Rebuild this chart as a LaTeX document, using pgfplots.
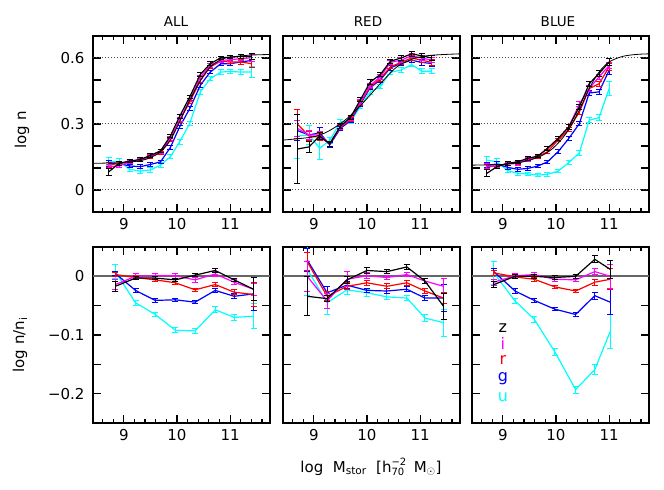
\documentclass[border=0pt]{standalone}
\usepackage{fontspec}
\setmainfont{DejaVu Sans}
\usepackage{pgfplots}
\pgfplotsset{compat=1.18}
\definecolor{mag}{rgb}{1,0,1}
\definecolor{cy}{rgb}{0,1,1}
\definecolor{bl}{rgb}{0,0,1}
\definecolor{rd}{rgb}{1,0,0}
\definecolor{zl}{rgb}{0.4,0.4,0.4}
\pgfplotsset{
 panel/.style={width=177bp,height=176bp,scale only axis,anchor=north west,
  xmin=8.42,xmax=11.75, xtick={9,10,11}, xticklabels={9,10,11},
  minor xtick={8.6,8.8,9.2,9.4,9.6,9.8,10.2,10.4,10.6,10.8,11.2,11.4,11.6},
  tick align=inside, major tick length=8bp, minor tick length=4bp,
  scaled ticks=false,
  axis line style={line width=1.3bp},
  every tick/.append style={line width=1.2bp, black},
  tick label style={font=\fontsize{15bp}{17bp}\selectfont},
  xticklabel style={yshift=-3bp}, yticklabel style={xshift=-5bp}},
 top/.style={ymin=-0.1,ymax=0.7, ytick={0,0.1,0.2,0.3,0.4,0.5,0.6}},
 bot/.style={ymin=-0.25,ymax=0.05, ytick={-0.2,-0.15,-0.1,-0.05,0}},
 ser/.style={line width=1.2bp, mark=none,
  error bars/.cd, y dir=both, y explicit, error mark=-,
  error bar style={line width=1bp}, error mark options={rotate=90, line width=1bp, mark size=3bp}},
 fit/.style={black, line width=0.8bp, smooth, mark=none},
 dotl/.style={black!70, dotted, line width=1bp, mark=none},
 zerol/.style={zl, line width=1.8bp, mark=none},
 noyl/.style={yticklabels={,,,,,,,}},
}
\begin{document}
\begin{tikzpicture}
\useasboundingbox (0,0) rectangle (664bp,-490bp);
\node[anchor=base,font=\fontsize{13.5bp}{15bp}\selectfont] at (176bp,-26.7bp) {ALL};
\node[anchor=base,font=\fontsize{13.5bp}{15bp}\selectfont] at (368bp,-26.7bp) {RED};
\node[anchor=base,font=\fontsize{13.5bp}{15bp}\selectfont] at (558bp,-26.7bp) {BLUE};
\node[rotate=90,font=\fontsize{15bp}{17bp}\selectfont] at (22bp,-130bp) {log n};
\node[rotate=90,font=\fontsize{15bp}{17bp}\selectfont] at (20bp,-345bp) {log n/n\textsubscript{i}};
\node[font=\fontsize{15bp}{17bp}\selectfont] at (371bp,-467bp) {log\ \ M\textsubscript{stor}\ \ [h\rlap{\raisebox{6.5bp}{\fontsize{10bp}{10bp}\selectfont −2}}\raisebox{-3.5bp}{\fontsize{10bp}{10bp}\selectfont 70}\ \ M\textsubscript{$\odot$}]};

% ---------------- ALL top
\begin{axis}[panel, top, at={(93bp,-36bp)}, yticklabels={0,{},{},0.3,{},{},0.6}]
\addplot[dotl] coordinates {(8.42,0) (11.75,0)};
\addplot[dotl] coordinates {(8.42,0.3) (11.75,0.3)};
\addplot[dotl] coordinates {(8.42,0.6) (11.75,0.6)};
\addplot[cy, ser] table[y error index=2] {
8.72 0.130 0.018
8.91 0.130 0.015
9.11 0.094 0.01
9.31 0.086 0.01
9.50 0.091 0.01
9.69 0.113 0.01
9.875 0.151 0.01
10.05 0.219 0.01
10.24 0.302 0.01
10.44 0.446 0.01
10.625 0.506 0.01
10.825 0.536 0.01
11.0 0.539 0.01
11.2 0.536 0.012
11.41 0.536 0.025
};
\addplot[bl, ser] table[y error index=2] {
8.72 0.121 0.012
8.91 0.121 0.01
9.11 0.109 0.008
9.31 0.106 0.008
9.50 0.116 0.008
9.69 0.128 0.008
9.875 0.193 0.008
10.05 0.287 0.008
10.24 0.370 0.008
10.44 0.476 0.008
10.625 0.536 0.008
10.825 0.574 0.008
11.0 0.574 0.008
11.2 0.582 0.01
11.41 0.589 0.03
};
\addplot[rd, ser] table[y error index=2] {
8.72 0.113 0.01
8.91 0.121 0.008
9.11 0.131 0.008
9.31 0.136 0.008
9.50 0.151 0.008
9.69 0.169 0.008
9.875 0.227 0.008
10.05 0.317 0.008
10.24 0.400 0.008
10.44 0.498 0.008
10.625 0.559 0.008
10.825 0.586 0.008
11.0 0.582 0.008
11.2 0.582 0.01
11.41 0.574 0.018
};
\addplot[mag, ser] table[y error index=2] {
8.72 0.106 0.01
8.91 0.109 0.008
9.11 0.128 0.008
9.31 0.136 0.008
9.50 0.154 0.008
9.69 0.174 0.008
9.875 0.234 0.008
10.05 0.320 0.008
10.24 0.408 0.008
10.44 0.514 0.008
10.625 0.566 0.008
10.825 0.589 0.008
11.0 0.592 0.008
11.2 0.597 0.01
11.41 0.601 0.015
};
\addplot[black, ser] table[y error index=2] {
8.72 0.083 0.015
8.91 0.121 0.008
9.11 0.131 0.008
9.31 0.139 0.008
9.50 0.157 0.008
9.69 0.178 0.008
9.875 0.245 0.008
10.05 0.335 0.008
10.24 0.423 0.008
10.44 0.526 0.008
10.625 0.574 0.008
10.825 0.601 0.008
11.0 0.604 0.008
11.2 0.607 0.01
11.41 0.607 0.015
};
\addplot[fit] coordinates {(8.42,0.121) (9.0,0.125) (9.31,0.133) (9.5,0.147) (9.69,0.174) (9.875,0.227) (10.05,0.31) (10.24,0.408) (10.44,0.498) (10.625,0.559) (10.825,0.592) (11.0,0.604) (11.375,0.613) (11.75,0.616)};
\end{axis}

% ---------------- RED top
\begin{axis}[panel, top, at={(283bp,-36bp)}, noyl]
\addplot[dotl] coordinates {(8.42,0) (11.75,0)};
\addplot[dotl] coordinates {(8.42,0.3) (11.75,0.3)};
\addplot[dotl] coordinates {(8.42,0.6) (11.75,0.6)};
\addplot[cy, ser] table[y error index=2] {
8.69 0.245 0.10
8.91 0.250 0.045
9.11 0.190 0.05
9.30 0.225 0.015
9.50 0.310 0.012
9.69 0.310 0.01
9.875 0.380 0.01
10.06 0.445 0.01
10.25 0.470 0.01
10.44 0.535 0.01
10.64 0.545 0.01
10.84 0.570 0.01
11.03 0.540 0.012
11.22 0.540 0.012
};
\addplot[bl, ser] table[y error index=2] {
8.69 0.270 0.045
8.91 0.250 0.02
9.11 0.260 0.025
9.30 0.205 0.012
9.50 0.280 0.01
9.69 0.315 0.01
9.875 0.390 0.01
10.06 0.465 0.01
10.25 0.500 0.01
10.44 0.555 0.01
10.64 0.575 0.01
10.84 0.590 0.01
11.03 0.580 0.012
11.22 0.575 0.012
};
\addplot[rd, ser] table[y error index=2] {
8.69 0.300 0.065
8.91 0.245 0.02
9.11 0.240 0.015
9.30 0.210 0.012
9.50 0.285 0.01
9.69 0.320 0.01
9.875 0.395 0.01
10.06 0.470 0.01
10.25 0.505 0.01
10.44 0.560 0.01
10.64 0.580 0.01
10.84 0.600 0.01
11.03 0.590 0.012
11.22 0.580 0.012
};
\addplot[mag, ser] table[y error index=2] {
8.69 0.280 0.035
8.91 0.250 0.02
9.11 0.250 0.015
9.30 0.210 0.012
9.50 0.287 0.01
9.69 0.325 0.01
9.875 0.400 0.01
10.06 0.476 0.01
10.25 0.514 0.01
10.44 0.580 0.01
10.64 0.590 0.01
10.84 0.610 0.01
11.03 0.600 0.012
11.22 0.590 0.012
};
\addplot[black, ser] table[y error index=2] {
8.69 0.186 0.155
8.91 0.196 0.025
9.11 0.245 0.015
9.30 0.210 0.012
9.50 0.290 0.01
9.69 0.330 0.01
9.875 0.410 0.01
10.06 0.490 0.01
10.25 0.525 0.01
10.44 0.585 0.01
10.64 0.600 0.01
10.84 0.619 0.01
11.03 0.610 0.01
11.22 0.600 0.012
};
\addplot[fit] coordinates {(8.42,0.227) (9.0,0.242) (9.31,0.272) (9.625,0.325) (9.94,0.40) (10.25,0.483) (10.56,0.559) (10.875,0.597) (11.19,0.612) (11.75,0.619)};
\end{axis}

% ---------------- BLUE top
\begin{axis}[panel, top, at={(472bp,-36bp)}, noyl]
\addplot[dotl] coordinates {(8.42,0) (11.75,0)};
\addplot[dotl] coordinates {(8.42,0.3) (11.75,0.3)};
\addplot[dotl] coordinates {(8.42,0.6) (11.75,0.6)};
\addplot[cy, ser] table[y error index=2] {
8.70 0.136 0.018
8.89 0.128 0.015
9.09 0.088 0.01
9.28 0.076 0.008
9.47 0.073 0.008
9.66 0.068 0.008
9.84 0.071 0.008
10.04 0.086 0.008
10.24 0.124 0.01
10.44 0.169 0.012
10.625 0.317 0.012
10.81 0.329 0.015
11.0 0.461 0.03
};
\addplot[bl, ser] table[y error index=2] {
8.70 0.113 0.012
8.89 0.118 0.01
9.09 0.103 0.008
9.28 0.094 0.008
9.47 0.098 0.008
9.66 0.109 0.008
9.84 0.128 0.008
10.04 0.174 0.008
10.24 0.234 0.01
10.44 0.302 0.01
10.625 0.441 0.012
10.81 0.446 0.012
11.0 0.544 0.02
};
\addplot[rd, ser] table[y error index=2] {
8.70 0.106 0.01
8.89 0.109 0.008
9.09 0.121 0.008
9.28 0.124 0.008
9.47 0.136 0.008
9.66 0.151 0.008
9.84 0.174 0.008
10.04 0.227 0.008
10.24 0.275 0.01
10.44 0.355 0.01
10.625 0.461 0.012
10.81 0.483 0.012
11.0 0.559 0.015
};
\addplot[mag, ser] table[y error index=2] {
8.70 0.109 0.01
8.89 0.109 0.008
9.09 0.118 0.008
9.28 0.121 0.008
9.47 0.139 0.008
9.66 0.154 0.008
9.84 0.189 0.008
10.04 0.234 0.008
10.24 0.287 0.01
10.44 0.390 0.01
10.625 0.461 0.012
10.81 0.514 0.012
11.0 0.566 0.015
};
\addplot[black, ser] table[y error index=2] {
8.70 0.076 0.015
8.89 0.106 0.008
9.09 0.121 0.008
9.28 0.128 0.008
9.47 0.144 0.008
9.66 0.154 0.008
9.84 0.189 0.008
10.04 0.234 0.008
10.24 0.287 0.01
10.44 0.378 0.01
10.625 0.483 0.012
10.81 0.529 0.012
11.0 0.582 0.015
};
\addplot[fit] coordinates {(8.42,0.113) (9.0,0.116) (9.375,0.128) (9.69,0.151) (9.94,0.189) (10.19,0.257) (10.44,0.363) (10.625,0.461) (10.81,0.536) (11.0,0.582) (11.25,0.607) (11.5,0.616) (11.75,0.619)};
\end{axis}

% ---------------- ALL bottom
\begin{axis}[panel, bot, at={(93bp,-247bp)}, yticklabels={−0.2,{},−0.1,{},0}]
\addplot[zerol] coordinates {(8.42,0) (11.75,0)};
\addplot[cy, ser] table[y error index=2] {
8.84 0.008 0.012
9.22 -0.045 0.004
9.59 -0.065 0.004
9.97 -0.092 0.004
10.34 -0.093 0.004
10.72 -0.057 0.005
11.075 -0.070 0.005
11.44 -0.068 0.021
};
\addplot[bl, ser] table[y error index=2] {
8.84 0.005 0.004
9.22 -0.024 0.004
9.59 -0.041 0.003
9.97 -0.040 0.003
10.34 -0.044 0.003
10.72 -0.024 0.004
11.075 -0.034 0.004
11.44 -0.030 0.028
};
\addplot[rd, ser] table[y error index=2] {
8.84 0.003 0.004
9.22 -0.002 0.003
9.59 -0.006 0.003
9.97 -0.011 0.003
10.34 -0.023 0.003
10.72 -0.014 0.003
11.075 -0.027 0.004
11.44 -0.031 0.02
};
\addplot[mag, ser] table[y error index=2] {
8.84 -0.014 0.008
9.22 0.000 0.004
9.59 0.001 0.004
9.97 0.001 0.004
10.34 -0.006 0.004
10.72 0.004 0.004
11.075 -0.010 0.004
11.44 -0.022 0.01
};
\addplot[black, ser] table[y error index=2] {
8.84 -0.017 0.008
9.22 -0.003 0.003
9.59 -0.003 0.003
9.97 -0.006 0.003
10.34 0.002 0.003
10.72 0.010 0.003
11.075 -0.006 0.003
11.44 -0.022 0.02
};
\end{axis}

% ---------------- RED bottom
\begin{axis}[panel, bot, at={(283bp,-247bp)}, noyl]
\addplot[zerol] coordinates {(8.42,0) (11.75,0)};
\addplot[cy, ser] table[y error index=2] {
8.875 0.012 0.045
9.25 -0.045 0.02
9.625 -0.023 0.008
10.0 -0.028 0.006
10.375 -0.035 0.005
10.75 -0.037 0.005
11.09 -0.071 0.006
11.44 -0.079 0.023
};
\addplot[bl, ser] table[y error index=2] {
8.875 0.028 0.02
9.25 -0.028 0.01
9.625 -0.015 0.006
10.0 -0.024 0.004
10.375 -0.025 0.004
10.75 -0.022 0.004
11.09 -0.037 0.005
11.44 -0.037 0.023
};
\addplot[rd, ser] table[y error index=2] {
8.875 0.025 0.015
9.25 -0.034 0.008
9.625 -0.017 0.006
10.0 -0.011 0.004
10.375 -0.017 0.004
10.75 -0.011 0.004
11.09 -0.025 0.005
11.44 -0.037 0.01
};
\addplot[mag, ser] table[y error index=2] {
8.875 0.000 0.025
9.25 -0.042 0.012
9.625 -0.005 0.013
10.0 0.001 0.005
10.375 -0.002 0.004
10.75 0.003 0.004
11.09 -0.008 0.005
11.44 -0.017 0.013
};
\addplot[black, ser] table[y error index=2] {
8.875 -0.034 0.033
9.25 -0.038 0.005
9.625 -0.006 0.006
10.0 0.010 0.005
10.375 0.008 0.004
10.75 0.016 0.004
11.09 -0.008 0.005
11.44 -0.051 0.022
};
\end{axis}

% ---------------- BLUE bottom
\begin{axis}[panel, bot, at={(472bp,-247bp)}, noyl]
\addplot[zerol] coordinates {(8.42,0) (11.75,0)};
\addplot[cy, ser] table[y error index=2] {
8.83 0.006 0.02
9.23 -0.042 0.005
9.59 -0.073 0.005
9.98 -0.129 0.006
10.37 -0.193 0.006
10.73 -0.159 0.008
11.02 -0.094 0.029
};
\addplot[bl, ser] table[y error index=2] {
8.83 0.008 0.006
9.23 -0.025 0.004
9.59 -0.041 0.003
9.98 -0.056 0.003
10.37 -0.065 0.004
10.73 -0.033 0.006
11.02 -0.044 0.021
};
\addplot[rd, ser] table[y error index=2] {
8.83 0.006 0.004
9.23 -0.001 0.003
9.59 -0.005 0.003
9.98 -0.018 0.003
10.37 -0.025 0.003
10.73 -0.010 0.005
11.02 -0.005 0.018
};
\addplot[mag, ser] table[y error index=2] {
8.83 -0.010 0.005
9.23 0.001 0.003
9.59 0.003 0.003
9.98 -0.005 0.003
10.37 -0.006 0.003
10.73 0.008 0.005
11.02 0.000 0.02
};
\addplot[black, ser] table[y error index=2] {
8.83 -0.014 0.005
9.23 0.000 0.003
9.59 0.000 0.003
9.98 -0.002 0.003
10.37 0.000 0.003
10.73 0.029 0.006
11.02 0.012 0.015
};
\node[anchor=base,font=\fontsize{16bp}{18bp}\selectfont,black] at (axis cs:9.0,-0.096) {z};
\node[anchor=base,font=\fontsize{16bp}{18bp}\selectfont,mag] at (axis cs:9.0,-0.124) {i};
\node[anchor=base,font=\fontsize{16bp}{18bp}\selectfont,rd] at (axis cs:9.0,-0.150) {r};
\node[anchor=base,font=\fontsize{16bp}{18bp}\selectfont,bl] at (axis cs:9.0,-0.179) {g};
\node[anchor=base,font=\fontsize{16bp}{18bp}\selectfont,cy] at (axis cs:9.0,-0.214) {u};
\end{axis}
\end{tikzpicture}
\end{document}
